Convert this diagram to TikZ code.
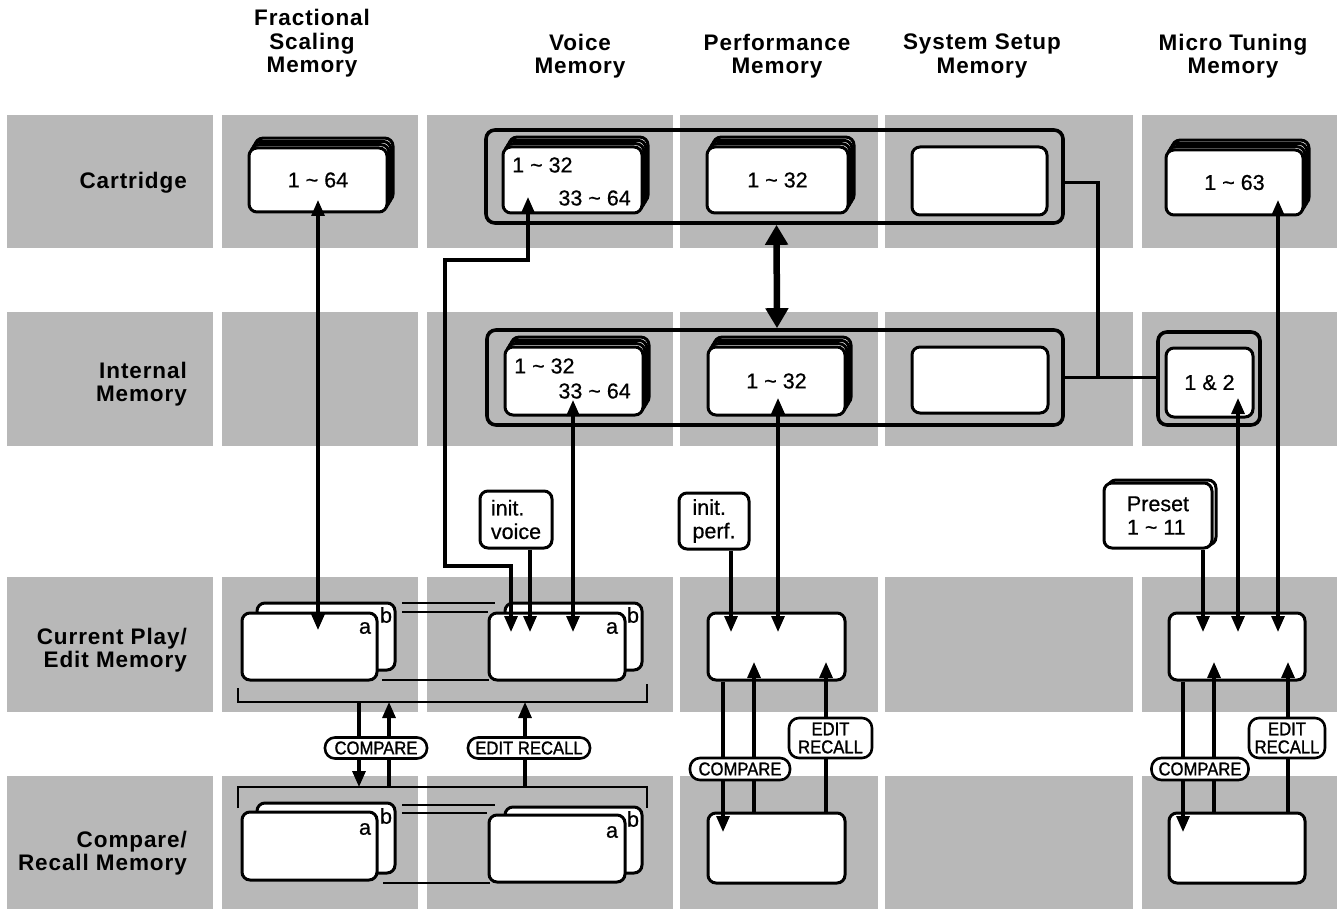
\documentclass[tikz,border=0pt]{standalone}
\usepackage{fontspec}
\setmainfont{Liberation Sans}
\newfontfamily\hdrfont[LetterSpace=4]{Liberation Sans}
\newfontfamily\lblfont[FakeStretch=0.9,FakeBold=1.2]{Liberation Sans}
\newfontfamily\numfont[FakeBold=0.6]{Liberation Sans}
\usetikzlibrary{arrows.meta,calc}
\newcommand\mytilde{\textasciitilde}
\newcommand\hdrf{\hdrfont\bfseries\fontsize{22.5}{23.5}\selectfont}
\newcommand\numf{\numfont\fontsize{21.5}{23.5}\selectfont}
\newcommand\lblf{\lblfont\fontsize{18.5}{18}\selectfont}
% box node from corners: [style]{name}{x1}{y1}{x2}{y2}{text}
\newcommand\bx[7][]{\node[box,#1,minimum width={#5-#3},minimum height={#6-#4}] (#2) at ({(#3+#5)/2},{(#4+#6)/2}) {#7};}
% stacked back layers
\newcommand\stk[5]{\foreach \k in {#5,...,1}{\draw[box] ({#1+2*\k},{#2-3.3*\k}) rectangle ({#3+2*\k},{#4-3.3*\k});}}
\begin{document}
\begin{tikzpicture}[x=1pt,y=-1pt,
  >={Triangle[width=13pt,length=16pt]},
  cell/.style={fill=black!28},
  box/.style={draw,line width=3pt,rounded corners=8pt,fill=white,inner sep=0pt},
  grp/.style={draw,line width=3.6pt,rounded corners=9pt,inner sep=0pt},
  conn/.style={line width=3.1pt},
  arr/.style={conn,->},
  darr/.style={conn,<->},
  thinl/.style={line width=1.5pt},
  brk/.style={line width=2.8pt},
  pill/.style={draw,fill=white,line width=2.6pt,rounded corners=10pt,inner sep=0pt,align=center,font=\lblf},
  hdr/.style={font=\hdrf,align=center,inner sep=0pt},
  rowl/.style={font=\hdrf,align=right,anchor=east,inner sep=0pt},
  num/.style={font=\numf,inner sep=0pt},
]
\useasboundingbox (0,0) rectangle (1340,909);
\fill[white] (0,0) rectangle (1340,909);
% background cells
\foreach \xa/\xb in {7/213,222/418,427/673,680/878,885/1133,1142/1337}
  \foreach \ya/\yb in {115/248,312/446,577/712,776/909}
    \fill[cell] (\xa,\ya) rectangle (\xb,\yb);

% headers
\node[hdr] (hfs) at (312,43.5) {Fractional\\Scaling\\Memory};
\node[hdr] (hvm) at (580,56) {Voice\\Memory};
\node[hdr] (hpm) at (777,56) {Performance\\Memory};
\node[hdr] (hss) at (982,56) {System Setup\\Memory};
\node[hdr] (hmt) at (1233,56) {Micro Tuning\\Memory};

% row labels
\node[rowl] (lcart) at (187,183) {Cartridge};
\node[rowl] (lint) at (187,384) {Internal\\Memory};
\node[rowl] (lcur) at (187,650) {Current Play/\\Edit Memory};
\node[rowl] (lcmp) at (187,853) {Compare/\\Recall Memory};

% ---- cartridge row
\stk{249}{148}{387}{212}{3}
\bx[num]{fcart}{249}{148}{387}{212}{1 \mytilde{} 64}
\bx[grp,fill=none]{cartgrp}{486}{130}{1063}{223}{}
\stk{503}{147}{642}{213}{3}
\bx{vcart}{503}{147}{642}{213}{}
\node[num,anchor=west] (vcart1) at (512,165) {1 \mytilde{} 32};
\node[num,anchor=east] (vcart2) at (631,198) {33 \mytilde{} 64};
\stk{707}{147}{848}{213}{3}
\bx[num]{pcart}{707}{147}{848}{213}{1 \mytilde{} 32}
\bx{scart}{912}{147}{1047}{215}{}
\stk{1166}{150}{1303}{215}{3}
\bx[num]{mcart}{1166}{150}{1303}{215}{1 \mytilde{} 63}

% ---- internal row
\bx[grp,fill=none]{intgrp}{487}{330}{1063}{425}{}
\stk{505}{347}{643}{415}{3}
\bx{vint}{505}{347}{643}{415}{}
\node[num,anchor=west] (vint1) at (514,366) {1 \mytilde{} 32};
\node[num,anchor=east] (vint2) at (631,391) {33 \mytilde{} 64};
\stk{708}{347}{845}{415}{3}
\bx[num]{pint}{708}{347}{845}{415}{1 \mytilde{} 32}
\bx{sint}{912}{347}{1048}{413}{}
\bx[grp,fill=none]{mintgrp}{1158}{332}{1260}{425}{}
\bx[num]{mint}{1166}{348}{1253}{417}{1 \& 2}

% ---- init / preset boxes
\bx[num,align=left]{ivoice}{480}{491}{552}{548}{init.\\voice}
\bx[num,align=left]{iperf}{679}{493}{749}{549}{init.\\perf.}
\draw[box] (1108,480) rectangle (1216,545);
\bx[num,align=left]{preset}{1104}{483}{1212}{548}{Preset\\1 \mytilde{} 11}

% ---- thin link lines between a/b sets
\draw[thinl] (402,603) -- (495,603);
\draw[thinl] (402,612) -- (488,612);
\draw[thinl] (382,680) -- (489,680);
\draw[thinl] (402,805) -- (495,805);
\draw[thinl] (402,813) -- (487,813);
\draw[thinl] (383,883) -- (490,883);

% ---- current play row
\draw[box] (257,603) rectangle (395,670);
\bx{fcur}{242}{613}{377}{680}{}
\node[num] (fcura) at (365,628) {a};
\node[num] (fcurb) at (386,615) {b};
\draw[box] (505,603) rectangle (642,670);
\bx{vcur}{489}{613}{625}{680}{}
\node[num] (vcura) at (612,628) {a};
\node[num] (vcurb) at (633,615) {b};
\bx{pcur}{708}{613}{845}{680}{}
\bx{mcur}{1169}{613}{1305}{680}{}

% ---- compare row
\draw[box] (257,803) rectangle (395,873);
\bx{fcmp}{242}{812}{377}{880}{}
\node[num] (fcmpa) at (365,829) {a};
\node[num] (fcmpb) at (386,816) {b};
\draw[box] (505,807) rectangle (642,873);
\bx{vcmp}{489}{815}{625}{882}{}
\node[num] (vcmpa) at (612,832) {a};
\node[num] (vcmpb) at (633,819) {b};
\bx{pcmp}{708}{813}{845}{883}{}
\bx{mcmp}{1169}{813}{1305}{883}{}

% ---- brackets
\draw[brk] (238,688) |- (647,702) -- (647,684);
\draw[brk] (238,808) |- (647,787) -- (647,808);

% ---- coordinates for arrow ends
\coordinate (f1) at (318,200);   \coordinate (f2) at (318,630);
\coordinate (v1) at (528,197);   \coordinate (v2) at (511,632);
\coordinate (v3) at (530,632);
\coordinate (v4) at (573,400);   \coordinate (v5) at (573,632);
\coordinate (p1) at (731,632);
\coordinate (p2) at (778,398);   \coordinate (p3) at (778,632);
\coordinate (pd) at (723,832);
\coordinate (pu1) at (754,662);  \coordinate (pu2) at (826,662);
\coordinate (m1) at (1203,632);
\coordinate (m2) at (1238,398);  \coordinate (m3) at (1238,632);
\coordinate (m4) at (1278,200);  \coordinate (m5) at (1278,632);
\coordinate (md) at (1183,832);
\coordinate (mu1) at (1214,662); \coordinate (mu2) at (1288,662);
\coordinate (cb1) at (359,702);  \coordinate (rb1) at (359,787);
\coordinate (cb2) at (389,702);  \coordinate (rb2) at (389,787);
\coordinate (cb3) at (525,702);  \coordinate (rb3) at (525,787);
\coordinate (jn) at (1098,377.5);

% ---- connectors
\draw[darr] (f1) -- (f2);
\draw[darr] (v1) -- ++(0,63) -| (445,566) -| (v2);
\draw[arr] (ivoice.south -| v3) -- (v3);
\draw[darr] (v4) -- (v5);
\draw[arr] (iperf.south -| p1) -- (p1);
\draw[darr] (p2) -- (p3);
\draw[arr] (pcur.south -| pd) -- (pd);
\draw[arr] (pcmp.north -| pu1) -- (pu1);
\draw[arr] (pcmp.north -| pu2) -- (pu2);
\draw[arr] (preset.south -| m1) -- (m1);
\draw[darr] (m2) -- (m3);
\draw[darr] (m4) -- (m5);
\draw[arr] (mcur.south -| md) -- (md);
\draw[arr] (mcmp.north -| mu1) -- (mu1);
\draw[arr] (mcmp.north -| mu2) -- (mu2);
\draw[arr] (cb1) -- (rb1);
\draw[arr] (rb2) -- (cb2);
\draw[arr] (rb3) -- (cb3);
\draw[conn] ([yshift=-6pt]cartgrp.east) -| (jn);
\draw[conn] (intgrp.east) -- (intgrp.east -| mintgrp.west);
\draw[line width=6.5pt,{Triangle[width=22pt,length=20pt]}-{Triangle[width=22pt,length=20pt]}]
  ([xshift=2pt]cartgrp.south) -- ([xshift=2pt]intgrp.north);

% ---- labels on connectors
\node[pill,minimum width=102pt,minimum height=21pt] (lcmpL) at (376,748) {COMPARE};
\node[pill,minimum width=122pt,minimum height=21pt] (leditL) at (529,748) {EDIT RECALL};
\node[pill,minimum width=100pt,minimum height=22pt] (pcmpL) at (740,769) {COMPARE};
\node[pill,minimum width=83pt,minimum height=40pt] (peditL) at (830.5,738) {EDIT\\RECALL};
\node[pill,minimum width=97pt,minimum height=22pt] (mcmpL) at (1200,769) {COMPARE};
\node[pill,minimum width=76pt,minimum height=40pt] (meditL) at (1287,738) {EDIT\\RECALL};
\end{tikzpicture}
\end{document}
